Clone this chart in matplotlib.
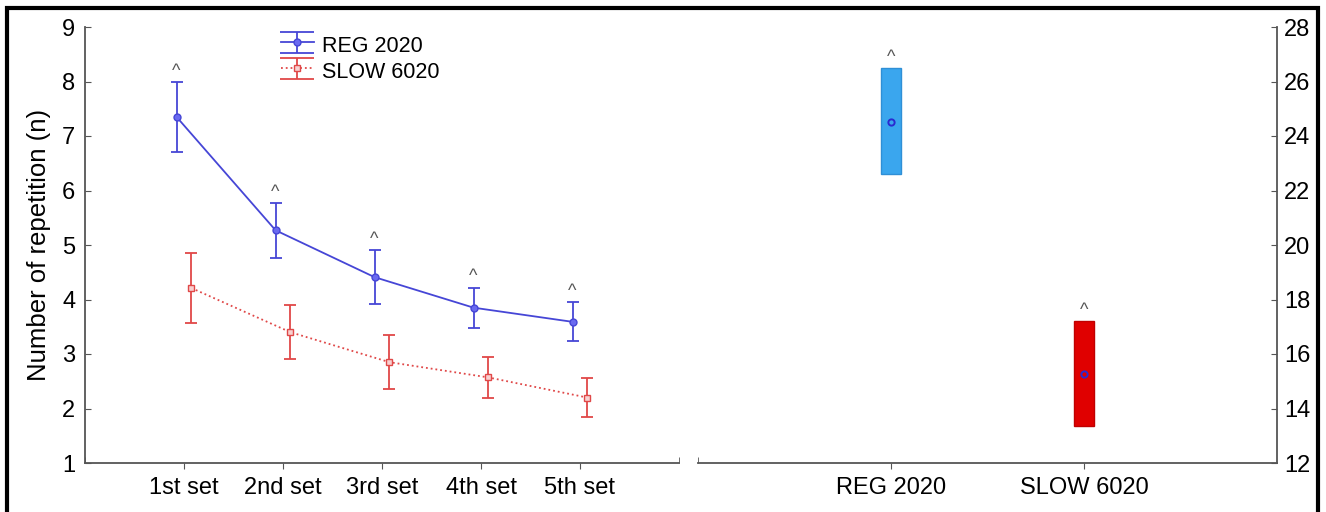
import matplotlib
matplotlib.use("Agg")
import matplotlib.pyplot as plt
import matplotlib.patches as patches
import numpy as np

plt.rcParams['font.family'] = ['Liberation Sans', 'DejaVu Sans']

# per-set repetitions (mean and error bar half-length)
sets = ['1st set', '2nd set', '3rd set', '4th set', '5th set']
reg_mean = [7.35, 5.27, 4.41, 3.85, 3.59]
reg_err = [0.64, 0.50, 0.49, 0.37, 0.36]
slow_mean = [4.21, 3.40, 2.85, 2.57, 2.20]
slow_err = [0.64, 0.49, 0.49, 0.37, 0.36]

# total repetitions per protocol
groups = ['REG 2020', 'SLOW 6020']
total_mean = [24.5, 15.25]
total_low = [22.6, 13.35]
total_high = [26.5, 17.2]

blue = '#4646d6'
red = '#e04848'
spine_col = '#555555'

fig = plt.figure(figsize=(13.26, 5.12), dpi=100)
ax1 = fig.add_axes([85 / 1326, 49 / 512, 594 / 1326, 436 / 512])
ax2 = fig.add_axes([698 / 1326, 49 / 512, 579 / 1326, 436 / 512])

x = np.arange(len(sets))
off = 0.075
reg_style = dict(color=blue, lw=1.3, ls='-', marker='o', ms=5, mfc='#6a6af0', mec=blue,
                 elinewidth=1.3, capthick=1.3)
slow_style = dict(color=red, lw=1.3, ls=':', marker='s', ms=4.5, mfc='#f8d0d0', mec=red,
                  elinewidth=1.3, capthick=1.3)
ax1.errorbar(x - off, reg_mean, yerr=reg_err, capsize=4.5, **reg_style)
ax1.errorbar(x + off, slow_mean, yerr=slow_err, capsize=4.5, **slow_style)

# legend proxies with wide caps
h1 = ax1.errorbar([np.nan], [np.nan], yerr=[1], capsize=12, label='REG 2020', **reg_style)
h2 = ax1.errorbar([np.nan], [np.nan], yerr=[1], capsize=12, label='SLOW 6020', **slow_style)

for xi, m, e in zip(x, reg_mean, reg_err):
    ax1.annotate('^', (xi - off, m + e), xytext=(0, 1.5), textcoords='offset points',
                 ha='center', va='bottom', fontsize=13, color='#555555')

ax1.set_xlim(-1, 5)
ax1.set_ylim(1, 9)
ax1.set_xticks(x)
ax1.set_xticklabels(sets)
ax1.set_xticks([-1, 5], minor=True)
ax1.set_yticks(range(1, 10))
ax1.set_ylabel('Number of repetition (n)', fontsize=18.5, labelpad=8)
ax1.spines['top'].set_visible(False)
ax1.spines['right'].set_visible(False)
ax1.tick_params(axis='x', which='major', direction='out', length=4, labelsize=17,
                color=spine_col, pad=6)
ax1.tick_params(axis='x', which='minor', direction='in', length=4, color=spine_col)
ax1.tick_params(axis='y', direction='in', length=4, labelsize=17, color=spine_col, pad=7)
for s in ['left', 'bottom']:
    ax1.spines[s].set_color(spine_col)
    ax1.spines[s].set_linewidth(1.3)

leg = ax1.legend(handles=[h1, h2], loc='upper left', bbox_to_anchor=(0.305, 1.02),
                 frameon=False, fontsize=15.5, handlelength=1.5, handleheight=1.2,
                 handletextpad=0.4, labelspacing=0.12, borderpad=0.2)

# right panel: floating bars
xg = np.arange(len(groups))
bar_cols = ['#3aa6ee', '#e00000']
edge_cols = ['#2f8fd6', '#c00000']
heights = [hi - lo for hi, lo in zip(total_high, total_low)]
ax2.bar(xg, heights, bottom=total_low, width=0.105, color=bar_cols,
        edgecolor=edge_cols, linewidth=1)
ax2.plot(xg, total_mean, ls='none', marker='o', ms=4.5, mfc='none', mec='#2a2ad0', mew=1.4)
for xi, hi in zip(xg, total_high):
    ax2.annotate('^', (xi, hi), xytext=(0, 1.5), textcoords='offset points',
                 ha='center', va='bottom', fontsize=13, color='#555555')

ax2.set_xlim(-1, 2)
ax2.set_ylim(12, 28)
ax2.set_xticks(xg)
ax2.set_xticklabels(groups)
ax2.set_xticks([-1], minor=True)
ax2.set_yticks(range(12, 29, 2))
ax2.yaxis.tick_right()
ax2.spines['top'].set_visible(False)
ax2.spines['left'].set_visible(False)
ax2.tick_params(axis='x', which='major', direction='out', length=4, labelsize=17,
                color=spine_col, pad=6)
ax2.tick_params(axis='x', which='minor', direction='in', length=4, color=spine_col)
ax2.tick_params(axis='y', direction='in', length=4, labelsize=17, color=spine_col, pad=5)
for s in ['right', 'bottom']:
    ax2.spines[s].set_color(spine_col)
    ax2.spines[s].set_linewidth(1.3)

# outer frame
frame = patches.Rectangle((7 / 1326, -0.05), (1318 - 7) / 1326, 1 - 8 / 512 + 0.05,
                          transform=fig.transFigure, fill=False, lw=3, ec='black',
                          clip_on=False)
fig.patches.append(frame)

fig.savefig('out.png', dpi=100)
